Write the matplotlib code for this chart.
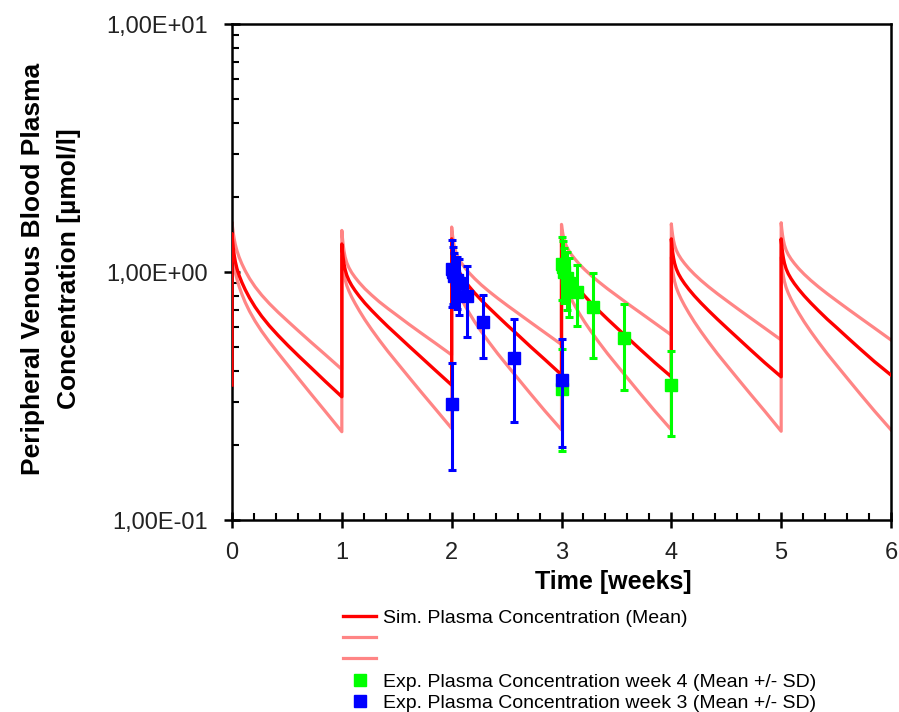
import matplotlib
matplotlib.use("Agg")
import matplotlib.pyplot as plt
from matplotlib.ticker import FuncFormatter, MultipleLocator, LogLocator, NullFormatter
from matplotlib.lines import Line2D

plt.rcParams['font.family'] = ['Liberation Sans', 'DejaVu Sans']

# ---- simulated curves: values read at these offsets (weeks) within each dosing week ----
week_offsets = [0.0, 0.005, 0.012, 0.02, 0.03, 0.045, 0.065, 0.09, 0.12, 0.16, 0.21,
                0.27, 0.34, 0.42, 0.51, 0.61, 0.72, 0.85, 1.0]
start_mean, start_upper, start_lower = 0.35, 0.36, 0.34

sim_mean = [
    [1.428, 1.340, 1.247, 1.170, 1.102, 1.032, 0.968, 0.908, 0.849, 0.786, 0.723,
     0.663, 0.607, 0.555, 0.505, 0.457, 0.411, 0.362, 0.314],
    [1.297, 1.220, 1.141, 1.077, 1.023, 0.970, 0.924, 0.882, 0.842, 0.797, 0.749,
     0.701, 0.652, 0.602, 0.553, 0.503, 0.454, 0.402, 0.350],
    [1.360, 1.290, 1.217, 1.157, 1.105, 1.053, 1.007, 0.964, 0.921, 0.873, 0.822,
     0.770, 0.717, 0.663, 0.608, 0.554, 0.499, 0.443, 0.385],
    [1.360, 1.283, 1.203, 1.139, 1.084, 1.030, 0.983, 0.940, 0.898, 0.851, 0.801,
     0.750, 0.698, 0.645, 0.592, 0.539, 0.486, 0.431, 0.378],
    [1.360, 1.283, 1.203, 1.139, 1.084, 1.030, 0.983, 0.940, 0.898, 0.851, 0.801,
     0.750, 0.698, 0.645, 0.592, 0.539, 0.486, 0.431, 0.378],
    [1.360, 1.283, 1.203, 1.139, 1.084, 1.030, 0.983, 0.940, 0.898, 0.851, 0.801,
     0.750, 0.698, 0.645, 0.594, 0.541, 0.489, 0.435, 0.384],
]
sim_upper = [
    [1.590, 1.514, 1.431, 1.359, 1.292, 1.219, 1.147, 1.078, 1.012, 0.941, 0.872,
     0.807, 0.746, 0.688, 0.632, 0.576, 0.521, 0.464, 0.405],
    [1.471, 1.381, 1.288, 1.213, 1.150, 1.090, 1.040, 0.994, 0.952, 0.905, 0.856,
     0.808, 0.759, 0.712, 0.665, 0.616, 0.568, 0.517, 0.463],
    [1.518, 1.440, 1.359, 1.294, 1.237, 1.181, 1.131, 1.085, 1.041, 0.991, 0.940,
     0.887, 0.835, 0.783, 0.731, 0.679, 0.626, 0.569, 0.510],
    [1.556, 1.493, 1.427, 1.372, 1.323, 1.271, 1.223, 1.176, 1.131, 1.078, 1.024,
     0.968, 0.912, 0.855, 0.799, 0.741, 0.684, 0.622, 0.557],
    [1.564, 1.486, 1.405, 1.339, 1.282, 1.225, 1.175, 1.128, 1.083, 1.032, 0.979,
     0.925, 0.871, 0.817, 0.763, 0.708, 0.653, 0.594, 0.532],
    [1.580, 1.497, 1.412, 1.343, 1.284, 1.226, 1.175, 1.128, 1.083, 1.032, 0.979,
     0.925, 0.871, 0.817, 0.763, 0.708, 0.653, 0.594, 0.532],
]
sim_lower = [
    [1.202, 1.153, 1.097, 1.046, 0.996, 0.936, 0.874, 0.814, 0.755, 0.694, 0.634,
     0.577, 0.523, 0.471, 0.420, 0.370, 0.322, 0.274, 0.227],
    [1.165, 1.102, 1.035, 0.980, 0.931, 0.882, 0.837, 0.792, 0.748, 0.697, 0.642,
     0.587, 0.532, 0.478, 0.427, 0.377, 0.329, 0.281, 0.234],
    [1.148, 1.085, 1.018, 0.963, 0.915, 0.866, 0.821, 0.777, 0.733, 0.683, 0.629,
     0.575, 0.521, 0.468, 0.418, 0.369, 0.322, 0.275, 0.231],
    [1.148, 1.085, 1.018, 0.963, 0.915, 0.866, 0.821, 0.777, 0.733, 0.683, 0.629,
     0.575, 0.521, 0.468, 0.418, 0.369, 0.322, 0.275, 0.231],
    [1.148, 1.085, 1.018, 0.963, 0.915, 0.866, 0.821, 0.777, 0.733, 0.683, 0.629,
     0.575, 0.521, 0.468, 0.418, 0.369, 0.322, 0.275, 0.228],
    [1.148, 1.085, 1.018, 0.963, 0.915, 0.866, 0.821, 0.777, 0.733, 0.683, 0.629,
     0.575, 0.521, 0.468, 0.418, 0.369, 0.322, 0.275, 0.231],
]

# ---- experimental data (mean +/- SD) ----
wk3_t = [2.0, 2.006, 2.012, 2.024, 2.048, 2.071, 2.143, 2.286, 2.571, 3.0]
wk3_mean = [0.294, 1.03, 1.00, 0.96, 0.93, 0.90, 0.80, 0.63, 0.449, 0.367]
wk3_sd = [0.135, 0.31, 0.26, 0.23, 0.22, 0.23, 0.255, 0.18, 0.20, 0.17]

wk4_t = [3.0, 3.006, 3.012, 3.024, 3.048, 3.071, 3.143, 3.286, 3.571, 4.0]
wk4_mean = [0.339, 1.08, 1.05, 1.00, 0.95, 0.90, 0.833, 0.72, 0.54, 0.349]
wk4_sd = [0.15, 0.31, 0.28, 0.25, 0.25, 0.24, 0.23, 0.27, 0.205, 0.13]

x_ticks = [0, 1, 2, 3, 4, 5, 6]
legend_labels = ["Sim. Plasma Concentration (Mean)", " ", " ",
                 "Exp. Plasma Concentration week 4 (Mean +/- SD)",
                 "Exp. Plasma Concentration week 3 (Mean +/- SD)"]


def build(start, weeks):
    t, v = [0.0], [start]
    for w, vals in enumerate(weeks):
        t += [w + o for o in week_offsets]
        v += vals
    return t, v


fig = plt.figure(figsize=(8.99, 7.12), dpi=100)
ax = fig.add_axes([232 / 899, 1 - 520 / 712, 659 / 899, 496 / 712])

light = '#FF8585'
tu, vu = build(start_upper, sim_upper)
tl, vl = build(start_lower, sim_lower)
tm, vm = build(start_mean, sim_mean)
ax.plot(tu, vu, color=light, lw=2.3, solid_joinstyle='round', zorder=2)
ax.plot(tl, vl, color=light, lw=2.3, solid_joinstyle='round', zorder=2)
ax.plot(tm, vm, color='#FF0000', lw=2.4, solid_joinstyle='round', zorder=3)

ax.errorbar(wk4_t, wk4_mean, yerr=wk4_sd, fmt='s', color='#00FF00', ms=8,
            elinewidth=2.2, capsize=3.0, capthick=2.2, zorder=4)
ax.errorbar(wk3_t, wk3_mean, yerr=wk3_sd, fmt='s', color='#0000FF', ms=8,
            elinewidth=2.2, capsize=3.0, capthick=2.2, zorder=5)

ax.set_yscale('log')
ax.set_ylim(0.1, 10)
ax.set_xlim(0, 6)
ax.set_xticks(x_ticks)
ax.xaxis.set_minor_locator(MultipleLocator(0.2))
ax.yaxis.set_major_locator(LogLocator(base=10, numticks=5))
ax.yaxis.set_minor_locator(LogLocator(base=10, subs=range(2, 10), numticks=20))
ax.yaxis.set_minor_formatter(NullFormatter())
ax.yaxis.set_major_formatter(FuncFormatter(lambda v, p: f"{v:.2E}".replace('.', ',')))

for s in ax.spines.values():
    s.set_linewidth(1.8)
ax.tick_params(axis='both', which='major', direction='inout', length=11, width=1.8,
               labelsize=17, labelcolor='#222222')
ax.tick_params(axis='both', which='minor', direction='in', length=5, width=1.5)
ax.tick_params(axis='x', which='major', pad=10)
ax.tick_params(axis='y', which='major', pad=12)

fig.text(51 / 899, 1 - 269 / 712, "Peripheral Venous Blood Plasma\nConcentration [µmol/l]",
         rotation=90, ha='center', va='center', fontsize=19, fontweight='bold',
         multialignment='center', linespacing=1.6)
fig.text(613 / 899, 1 - 582 / 712, "Time [weeks]", ha='center', va='center',
         fontsize=18, fontweight='bold')

handles = [Line2D([], [], color='#FF0000', lw=2.4),
           Line2D([], [], color=light, lw=2.3),
           Line2D([], [], color=light, lw=2.3),
           Line2D([], [], marker='s', color='#00FF00', ls='none', ms=8),
           Line2D([], [], marker='s', color='#0000FF', ls='none', ms=8)]
fig.legend(handles, legend_labels, loc='upper left', bbox_to_anchor=(343 / 899, 1 - 609 / 712),
           frameon=False, fontsize=14, borderpad=0, borderaxespad=0, handlelength=1.7,
           handletextpad=0.35, labelspacing=0.19)

fig.savefig('out.png', dpi=100)
